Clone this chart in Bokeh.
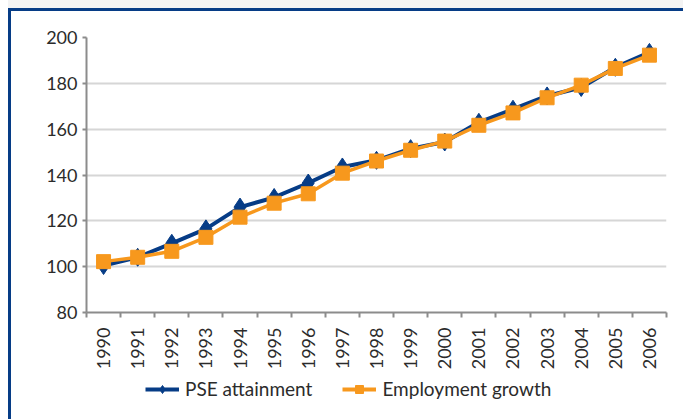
from bokeh.plotting import figure
from bokeh.layouts import column
from bokeh.models import Range1d, FixedTicker, Legend, LegendItem
from bokeh.embed import file_html
from bokeh.resources import INLINE

years = [str(y) for y in range(1990, 2007)]
pse_attainment = [100.5, 104.1, 110.2, 116.5, 126.0, 130.2, 136.5, 143.5, 146.4, 151.5,
                  154.4, 163.0, 168.7, 174.5, 178.2, 187.0, 193.5]
employment_growth = [102.2, 104.1, 106.7, 112.8, 121.6, 127.7, 131.8, 140.8, 146.1, 150.8,
                     154.8, 161.7, 167.1, 173.7, 179.2, 186.5, 192.3]
y_ticks = [80, 100, 120, 140, 160, 180, 200]
series_names = ["PSE attainment", "Employment growth"]

BLUE = "#063c86"
ORANGE = "#f7981d"
FONT = "Lato"
TXT = "#2b2b2b"

xs = [i + 0.5 for i in range(len(years))]

p = figure(width=672, height=361, output_backend="svg", toolbar_location=None,
           x_range=Range1d(0, len(years)), y_range=Range1d(80, 200),
           frame_width=580, frame_height=275,
           min_border_left=75, min_border_top=26, min_border_right=17, min_border_bottom=60)
p.outline_line_color = None
p.background_fill_color = "white"
p.border_fill_color = "white"

# grid
p.xgrid.grid_line_color = None
p.ygrid.grid_line_color = "#d6d6d6"
p.ygrid.grid_line_width = 2

# y axis
p.yaxis.ticker = FixedTicker(ticks=y_ticks)
p.yaxis.axis_line_color = "#8c8c8c"
p.yaxis.axis_line_width = 2
p.yaxis.major_tick_line_color = "#8c8c8c"
p.yaxis.major_tick_line_width = 2
p.yaxis.major_tick_out = 4
p.yaxis.major_tick_in = 0
p.yaxis.minor_tick_line_color = None
p.yaxis.major_label_text_font = FONT
p.yaxis.major_label_text_font_size = "18px"
p.yaxis.major_label_text_color = TXT
p.yaxis.major_label_standoff = 5

# x axis: labels at centers, ticks between categories
p.xaxis.ticker = FixedTicker(ticks=xs, minor_ticks=list(range(len(years) + 1)))
p.xaxis.major_label_overrides = {x: y for x, y in zip(xs, years)}
p.xaxis.major_label_orientation = 1.5708
p.xaxis.axis_line_color = "#8c8c8c"
p.xaxis.axis_line_width = 2
p.xaxis.major_tick_line_color = None
p.xaxis.minor_tick_line_color = "#8c8c8c"
p.xaxis.minor_tick_line_width = 2
p.xaxis.minor_tick_out = 5
p.xaxis.minor_tick_in = 0
p.xaxis.major_label_text_font = FONT
p.xaxis.major_label_text_font_size = "18px"
p.xaxis.major_label_text_color = TXT
p.xaxis.major_label_standoff = 9

p.line(xs, pse_attainment, line_color=BLUE, line_width=4)
p.scatter(xs, pse_attainment, marker="diamond", size=18, fill_color=BLUE, line_color=BLUE)
p.line(xs, employment_growth, line_color=ORANGE, line_width=3.5)
p.scatter(xs, employment_growth, marker="square", size=14, fill_color=ORANGE, line_color=ORANGE)

# legend strip (separate small figure, no axes, so the legend is not clipped)
pl = figure(width=672, height=47, output_backend="svg", toolbar_location=None,
            x_axis_type=None, y_axis_type=None,
            x_range=Range1d(-10, -9), y_range=Range1d(-10, -9),
            min_border_left=0, min_border_right=0, min_border_top=0, min_border_bottom=0)
pl.grid.visible = False
pl.outline_line_color = None
pl.background_fill_color = "white"
pl.border_fill_color = "white"
# same series, outside this strip's visible range: only their legend glyphs show
k1 = pl.line(xs, pse_attainment, line_color=BLUE, line_width=4)
s1 = pl.scatter(xs, pse_attainment, marker="diamond", size=14, fill_color=BLUE, line_color=BLUE)
k2 = pl.line(xs, employment_growth, line_color=ORANGE, line_width=4)
s2 = pl.scatter(xs, employment_growth, marker="square", size=11, fill_color=ORANGE, line_color=ORANGE)

legend = Legend(items=[LegendItem(label=series_names[0], renderers=[k1, s1]),
                       LegendItem(label=series_names[1], renderers=[k2, s2])],
                location=(59, 19), orientation="horizontal")
legend.label_text_font = FONT
legend.label_text_font_size = "19px"
legend.label_text_color = TXT
legend.glyph_width = 34
legend.glyph_height = 20
legend.label_standoff = 6
legend.spacing = 30
legend.padding = 0
legend.margin = 0
legend.border_line_color = None
legend.background_fill_alpha = 0
pl.add_layout(legend, "center")

layout = column(p, pl, spacing=0)
layout.styles = {"border-top": "3px solid " + BLUE, "border-left": "3px solid " + BLUE,
                 "margin-left": "8px", "margin-top": "8px",
                 "box-shadow": "0 -8px 0 0 #f3f3f3"}

open("out.html", "w").write(file_html(layout, INLINE))
